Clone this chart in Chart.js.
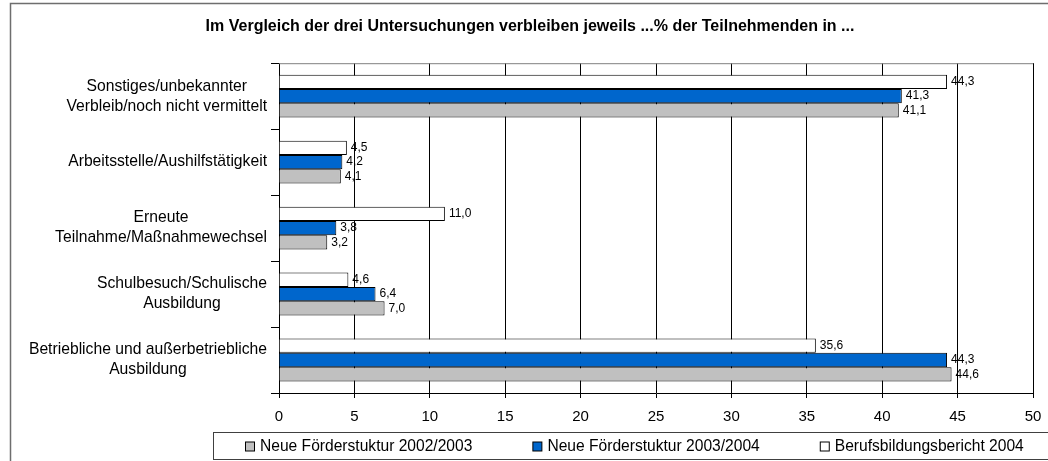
<!DOCTYPE html>
<html>
<head>
<meta charset="utf-8">
<script src="https://cdn.jsdelivr.net/npm/chart.js@4"></script>
<style>
  body { margin: 0; background: #fff; }
  #wrap { width: 1048px; height: 461px; }
</style>
</head>
<body>
<div id="wrap"><canvas id="chart" width="1048" height="461"></canvas></div>
<script>
// categories, top to bottom
const categories = [
  ['Sonstiges/unbekannter', 'Verbleib/noch nicht vermittelt'],
  ['Arbeitsstelle/Aushilfstätigkeit'],
  ['Erneute', 'Teilnahme/Maßnahmewechsel'],
  ['Schulbesuch/Schulische', 'Ausbildung'],
  ['Betriebliche und außerbetriebliche', 'Ausbildung']
]

// series values (percent)
const foerder0203 = [41.1, 4.1, 3.2, 7.0, 44.6]
const foerder0304 = [41.3, 4.2, 3.8, 6.4, 44.3]
const bbb2004 = [44.3, 4.5, 11.0, 4.6, 35.6]

const xTicks = [0, 5, 10, 15, 20, 25, 30, 35, 40, 45, 50]

const FONT = 'Liberation Sans, Arial, sans-serif'

// outer frame + plot top border
const framePlugin = {
  id: 'frame',
  beforeDraw(chart) {
    const c = chart.ctx
    c.save()
    c.strokeStyle = '#6e6e6e'
    c.lineWidth = 1.5
    c.strokeRect(10.5, 3.5, 1200, 600)
    c.restore()
  },
  beforeDatasetsDraw(chart) {
    const { ctx, chartArea } = chart
    ctx.save()
    ctx.strokeStyle = '#808080'
    ctx.lineWidth = 1
    ctx.beginPath()
    ctx.moveTo(chartArea.left, chartArea.top + 0.5)
    ctx.lineTo(chartArea.right, chartArea.top + 0.5)
    ctx.stroke()
    ctx.restore()
  }
}

// category labels: each block right-aligned, lines centred inside the block
const catLabelPlugin = {
  id: 'catLabels',
  afterDraw(chart) {
    const { ctx } = chart
    const y = chart.scales.y
    ctx.save()
    ctx.font = '15.7px ' + FONT
    ctx.fillStyle = '#000'
    ctx.textAlign = 'center'
    ctx.textBaseline = 'middle'
    const lh = 20
    chart.data.labels.forEach((lines, i) => {
      const w = Math.max(...lines.map(l => ctx.measureText(l).width))
      const cx = y.right - 12 - w / 2
      const cy = y.getPixelForTick(i)
      const start = cy - (lines.length - 1) * lh / 2
      lines.forEach((l, j) => ctx.fillText(l, cx, start + j * lh))
    })
    ctx.restore()
  }
}

// value labels at the bar ends
const valueLabelPlugin = {
  id: 'valueLabels',
  afterDatasetsDraw(chart) {
    const { ctx } = chart
    ctx.save()
    ctx.font = '12px ' + FONT
    ctx.fillStyle = '#000'
    ctx.textAlign = 'left'
    ctx.textBaseline = 'middle'
    chart.data.datasets.forEach((ds, di) => {
      chart.getDatasetMeta(di).data.forEach((bar, i) => {
        ctx.fillText(ds.data[i].toFixed(1).replace('.', ','), bar.x + 4, bar.y)
      })
    })
    ctx.restore()
  }
}

// boxed legend below the axis, items in reverse dataset order
const legendPlugin = {
  id: 'boxLegend',
  afterDraw(chart) {
    const { ctx, chartArea } = chart
    const top = chartArea.bottom + 39
    const h = 27
    ctx.save()
    ctx.strokeStyle = '#404040'
    ctx.lineWidth = 1
    ctx.strokeRect(213.5, top + 0.5, 1000, h)
    ctx.font = '15.6px ' + FONT
    ctx.textBaseline = 'middle'
    ctx.textAlign = 'left'
    let x = 245
    const cy = top + h / 2 + 1
    chart.data.datasets.slice().reverse().forEach(ds => {
      ctx.fillStyle = ds.backgroundColor
      ctx.fillRect(x + 0.5, cy - 4.5, 9, 9)
      ctx.strokeStyle = '#000'
      ctx.strokeRect(x + 0.5, cy - 4.5, 9, 9)
      ctx.fillStyle = '#000'
      ctx.fillText(ds.label, x + 15, cy)
      x += 15 + ctx.measureText(ds.label).width + 60
    })
    ctx.restore()
  }
}

new Chart(document.getElementById('chart'), {
  type: 'bar',
  data: {
    labels: categories,
    datasets: [
      { label: 'Berufsbildungsbericht 2004', data: bbb2004, backgroundColor: '#ffffff' },
      { label: 'Neue Förderstuktur 2003/2004', data: foerder0304, backgroundColor: '#0066cc' },
      { label: 'Neue Förderstuktur 2002/2003', data: foerder0203, backgroundColor: '#c0c0c0' }
    ]
  },
  options: {
    indexAxis: 'y',
    responsive: false,
    animation: false,
    layout: { padding: { left: 27, right: 15, top: 0, bottom: 20 } },
    datasets: {
      bar: {
        borderColor: '#000',
        borderWidth: 1,
        barPercentage: 1,
        categoryPercentage: 0.65
      }
    },
    scales: {
      x: {
        min: 0,
        max: 50,
        afterBuildTicks: scale => { scale.ticks = xTicks.map(v => ({ value: v })) },
        afterFit: scale => {
          scale.height = 48
          scale.paddingLeft = 0
          scale.paddingRight = 0
        },
        grid: { color: '#000', lineWidth: 1, tickLength: 5 },
        border: { display: true, color: '#000', width: 1 },
        ticks: { color: '#000', padding: 10, font: { family: FONT, size: 15 } }
      },
      y: {
        grid: { drawOnChartArea: false, color: '#000', tickLength: 8, offset: true },
        border: { display: true, color: '#000', width: 1 },
        ticks: { display: false },
        afterFit: scale => { scale.width = 252 }
      }
    },
    plugins: {
      legend: { display: false },
      tooltip: { enabled: false },
      title: {
        display: true,
        text: 'Im Vergleich der drei Untersuchungen verbleiben jeweils ...% der Teilnehmenden in ...',
        color: '#000',
        font: { family: FONT, size: 16, weight: 'bold' },
        padding: { top: 17, bottom: 27 }
      }
    }
  },
  plugins: [framePlugin, catLabelPlugin, valueLabelPlugin, legendPlugin]
})
</script>
</body>
</html>
